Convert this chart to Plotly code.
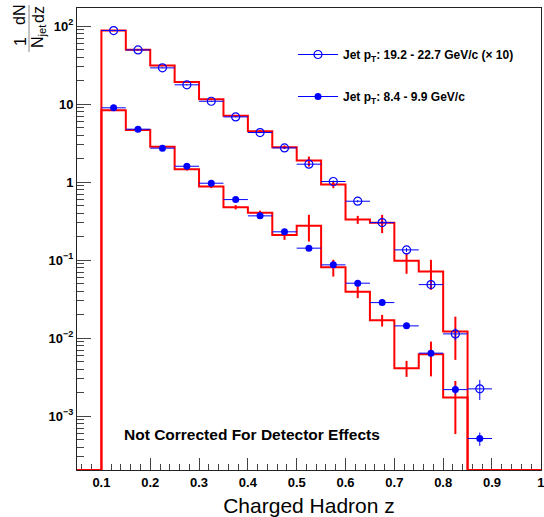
import plotly.graph_objects as go
import numpy as np

# ---------------- data ----------------
bin_edges = [0.05, 0.10, 0.15, 0.20, 0.25, 0.30, 0.35, 0.40, 0.45, 0.50,
             0.55, 0.60, 0.65, 0.70, 0.75, 0.80, 0.85, 1.00]
# histogram contents (red), first and last bins empty
hist_high = [0, 87.9, 50.0, 31.3, 19.3, 11.6, 7.08, 4.51, 2.81, 1.89, 0.931,
             0.332, 0.301, 0.098, 0.0715, 0.01217, 0]
hist_high_ep = [1.5, 1.0, 0.6, 0.4, 0.25, 0.18, 0.15, 0.15, 0.24, 0.089,
                0.038, 0.080, 0.025, 0.0295, 0.0067]
hist_high_em = [1.5, 1.0, 0.6, 0.4, 0.25, 0.18, 0.15, 0.15, 0.305, 0.093,
                0.040, 0.079, 0.031, 0.0299, 0.0069]
hist_low = [0, 8.37, 4.68, 2.84, 1.47, 0.879, 0.478, 0.407, 0.2095, 0.2754,
            0.0813, 0.0393, 0.0170, 0.00412, 0.00624, 0.00173, 0]
hist_low_ep = [0.2, 0.12, 0.09, 0.06, 0.04, 0.03, 0.025, 0.0345, 0.106,
               0.020, 0.0114, 0.0029, 0.0010, 0.0028, 0.0011]
hist_low_em = [0.2, 0.12, 0.09, 0.06, 0.04, 0.03, 0.025, 0.0275, 0.102,
               0.0196, 0.0067, 0.0029, 0.00093, 0.0030, 0.00114]

# data points (blue)
z_pts = [0.125, 0.175, 0.225, 0.275, 0.325, 0.375, 0.425, 0.475, 0.525,
         0.575, 0.625, 0.675, 0.725, 0.775, 0.825, 0.875]
pts_high = [87.9, 49.6, 29.2, 17.7, 10.9, 6.87, 4.33, 2.75, 1.70, 1.02,
            0.570, 0.303, 0.1355, 0.0486, 0.01135, 0.00224]
pts_high_ep = [1.0, 0.6, 0.4, 0.25, 0.15, 0.1, 0.07, 0.05, 0.04, 0.03,
               0.02, 0.015, 0.008, 0.004, 0.002, 0.00068]
pts_high_em = [1.0, 0.6, 0.4, 0.25, 0.15, 0.1, 0.07, 0.05, 0.04, 0.03,
               0.02, 0.015, 0.008, 0.004, 0.002, 0.00063]
pts_low = [8.98, 4.78, 2.73, 1.60, 0.970, 0.598, 0.370, 0.231, 0.1426,
           0.0871, 0.0507, 0.0286, 0.01438, 0.00643, 0.00219, 0.000517]
pts_low_err = [0.1, 0.06, 0.04, 0.03, 0.02, 0.015, 0.01, 0.008, 0.006,
               0.004, 0.003, 0.002, 0.001, 0.0006, 0.0003, 0.0001]
z_halfwidth = 0.025

legend_high = "<b>Jet p<sub>T</sub>: 19.2 - 22.7 GeV/c (× 10)</b>"
legend_low = "<b>Jet p<sub>T</sub>: 8.4 - 9.9 GeV/c</b>"
x_tick_vals = [0.1, 0.2, 0.3, 0.4, 0.5, 0.6, 0.7, 0.8, 0.9, 1.0]
x_tick_text = ["0.1", "0.2", "0.3", "0.4", "0.5", "0.6", "0.7", "0.8", "0.9", "1"]
y_tick_vals = [1e-3, 1e-2, 1e-1, 1, 10, 100]
y_tick_text = ["10<sup>−3</sup>", "10<sup>−2</sup>", "10<sup>−1</sup>", "1", "10", "10<sup>2</sup>"]

# ---------------- layout constants ----------------
W, H = 544, 517
ML, MR, MT, MB = 77, 3, 8, 47
PW, PH = W - ML - MR, H - MT - MB
YLOG_MIN, YLOG_MAX = -3.69, 2.233
YMIN = 10 ** YLOG_MIN
RED = "#ff0000"
BLUE = "#0000ff"
FONT = "Liberation Sans"


def px(x):
    return (x - ML) / PW


def py(y):
    return 1 - (y - MT) / PH


fig = go.Figure()

centers = [(bin_edges[i] + bin_edges[i + 1]) / 2 for i in range(1, len(bin_edges) - 2)]

for hist, ep, em in [(hist_high, hist_high_ep, hist_high_em),
                     (hist_low, hist_low_ep, hist_low_em)]:
    yv = [v if v > 0 else YMIN for v in hist] + [YMIN]
    fig.add_trace(go.Scatter(x=bin_edges, y=yv, mode="lines",
                             line=dict(color=RED, width=2, shape="hv"),
                             showlegend=False, hoverinfo="skip", cliponaxis=False))
    fig.add_trace(go.Scatter(x=centers, y=hist[1:-1], mode="markers",
                             marker=dict(size=1, color="rgba(0,0,0,0)"),
                             error_y=dict(type="data", symmetric=False, array=ep,
                                          arrayminus=em, color=RED, thickness=2, width=0),
                             showlegend=False, hoverinfo="skip"))

fig.add_trace(go.Scatter(x=z_pts, y=pts_high, mode="markers",
                         marker=dict(symbol="circle-open", size=8, color=BLUE,
                                     line=dict(width=1.2, color=BLUE)),
                         error_x=dict(type="constant", value=z_halfwidth, color=BLUE,
                                      thickness=1, width=0),
                         error_y=dict(type="data", symmetric=False, array=pts_high_ep,
                                      arrayminus=pts_high_em, color=BLUE, thickness=1, width=0),
                         showlegend=False))
fig.add_trace(go.Scatter(x=z_pts, y=pts_low, mode="markers",
                         marker=dict(symbol="circle", size=7, color=BLUE),
                         error_x=dict(type="constant", value=z_halfwidth, color=BLUE,
                                      thickness=1, width=0),
                         error_y=dict(type="data", array=pts_low_err, color=BLUE,
                                      thickness=1, width=0),
                         showlegend=False))

# legend entries
fig.add_trace(go.Scatter(x=[None], y=[None], mode="lines+markers", name=legend_high,
                         legendgroup="a",
                         line=dict(color=BLUE, width=1),
                         marker=dict(symbol="circle-open", size=8, color=BLUE,
                                     line=dict(width=1.2, color=BLUE))))
fig.add_trace(go.Scatter(x=[None], y=[None], mode="lines+markers", name=legend_low,
                         legendgroup="b",
                         line=dict(color=BLUE, width=1),
                         marker=dict(symbol="circle", size=7, color=BLUE,
                                     line=dict(width=0, color=BLUE))))

axis_common = dict(showline=True, linecolor="#222", linewidth=1, mirror=True,
                   showgrid=False, zeroline=False, ticks="inside", tickcolor="#444",
                   layer="below traces", ticklabeloverflow="allow")

fig.update_xaxes(range=[0.05, 1.0004], tickvals=x_tick_vals, ticktext=x_tick_text,
                 ticklen=12, tickwidth=1, automargin=False,
                 tickfont=dict(family=FONT, size=13, color="black", weight="bold"),
                 minor=dict(tickvals=[round(0.06 + 0.02 * i, 2) for i in range(48)],
                            ticks="inside", ticklen=6, tickcolor="#444"),
                 title=dict(text="Charged Hadron z",
                            font=dict(family=FONT, size=21, color="black"), standoff=9),
                 **axis_common)

minor_y = [m * 10 ** e for e in range(-4, 3) for m in range(2, 10)]
fig.update_yaxes(type="log", range=[YLOG_MIN, YLOG_MAX], tickvals=y_tick_vals,
                 ticktext=y_tick_text, ticklen=14, tickwidth=1, automargin=False,
                 tickfont=dict(family=FONT, size=13, color="black", weight="bold"),
                 minor=dict(tickvals=minor_y, ticks="inside", ticklen=7, tickcolor="#444"),
                 **axis_common)

# y-axis title as a rotated fraction
ann_font = dict(family=FONT, size=16, color="black")
for txt, x, y in [("1", 20, 42), ("dN", 20, 15), ("N<sub>jet</sub>", 39, 36), ("dz", 39, 15)]:
    fig.add_annotation(text=txt, xref="paper", yref="paper", x=px(x), y=py(y),
                       showarrow=False, textangle=-90, font=ann_font,
                       xanchor="center", yanchor="middle")
fig.add_shape(type="line", xref="paper", yref="paper",
              x0=px(29), x1=px(29), y0=py(5), y1=py(52),
              line=dict(color="#888", width=1))

fig.add_annotation(text="<b>Not Corrected For Detector Effects</b>", xref="paper",
                   yref="paper", x=px(252), y=py(434), showarrow=False,
                   font=dict(family=FONT, size=15.5, color="black"),
                   xanchor="center", yanchor="middle")

fig.update_layout(
    width=W, height=H,
    margin=dict(l=ML, r=MR, t=MT, b=MB),
    paper_bgcolor="white", plot_bgcolor="white",
    legend=dict(x=px(293), y=py(40), xanchor="left", yanchor="top",
                bgcolor="rgba(0,0,0,0)", font=dict(family=FONT, size=12, color="black"),
                traceorder="grouped", tracegroupgap=23, itemwidth=40),
)

fig.write_html("out.html", config={"displayModeBar": False},
               post_script="document.body.style.margin='0';document.body.style.overflow='hidden';")
